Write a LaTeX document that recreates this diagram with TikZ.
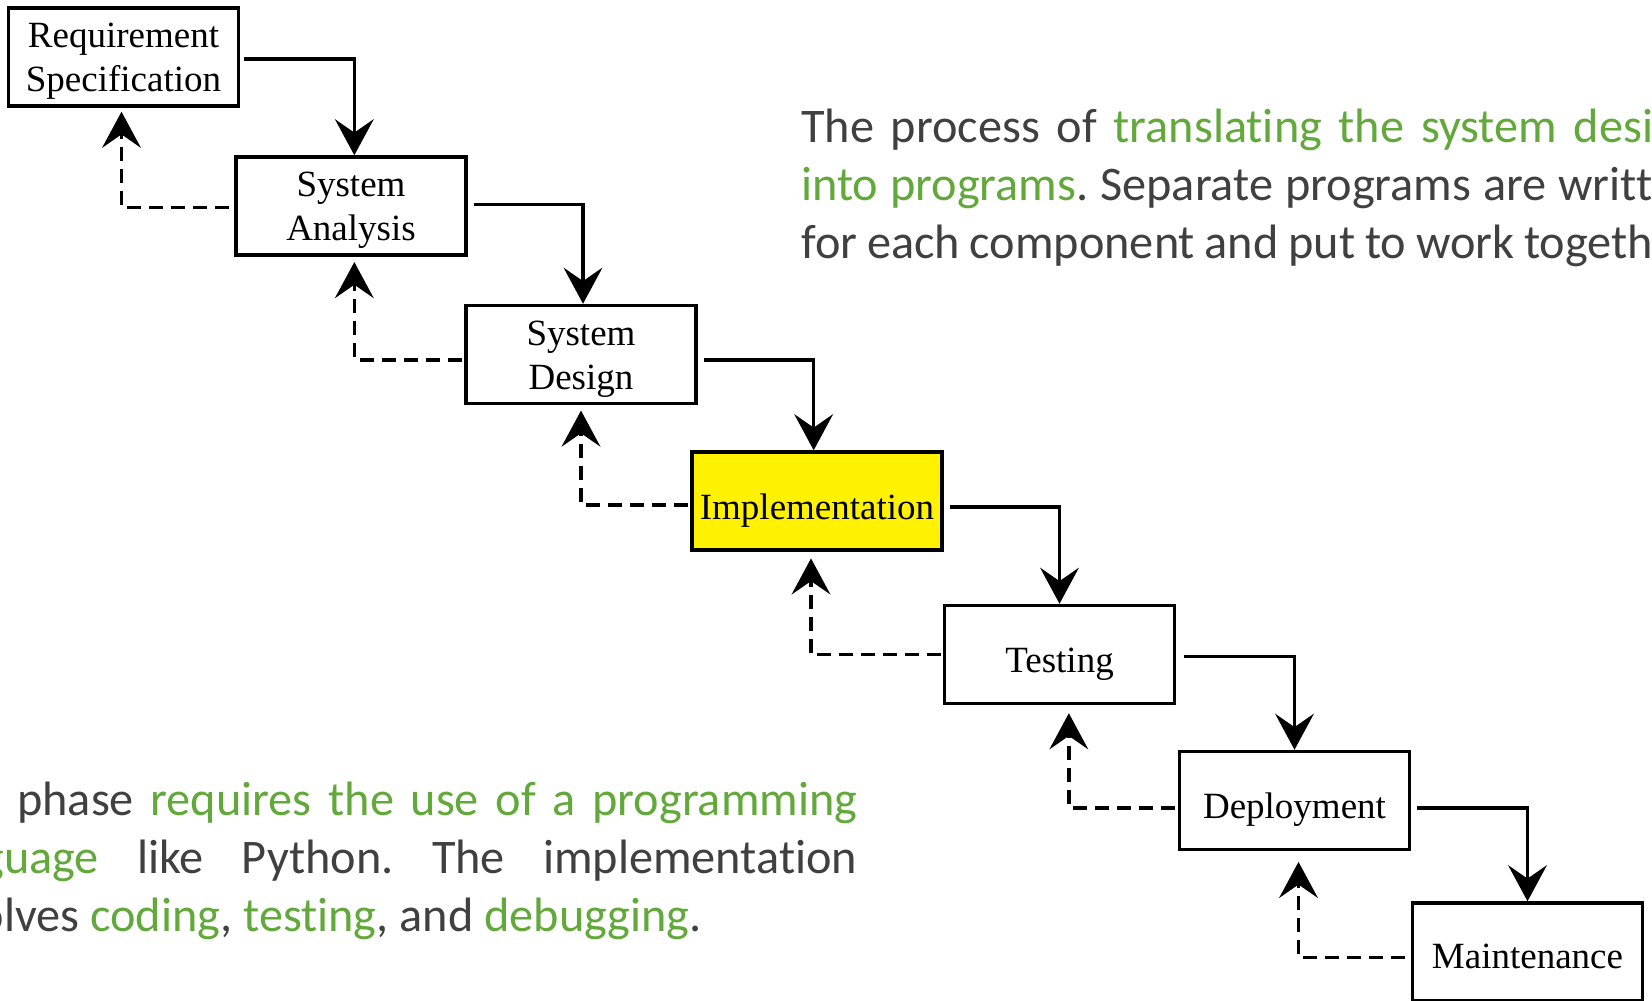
\documentclass[tikz,border=0pt]{standalone}
\usepackage{fontspec}
\setmainfont{Liberation Serif}
\newfontfamily\bodyfont[Ligatures=NoCommon]{Carlito}
\usetikzlibrary{arrows.meta}
\definecolor{textgray}{RGB}{64,64,64}
\definecolor{hlgreen}{RGB}{98,168,58}
\newcommand{\hl}[1]{\textcolor{hlgreen}{#1}}
% label set a little below the box centre, box size unchanged
\newcommand{\boxlabel}[2]{\raisebox{#1}[\height][\depth]{%
  \begin{tabular}{@{}c@{}}#2\end{tabular}}}

\begin{document}
\begin{tikzpicture}[x=0.75pt,y=-0.75pt,
  phase/.style={draw=black, line width=2.6pt, fill=white,
    minimum width=172.5pt, minimum height=73.5pt, inner sep=0pt,
    font=\fontsize{27.75}{33}\selectfont},
  flow/.style={line width=2.6pt,
    -{Stealth[length=27pt,width=29pt,inset=10pt]}},
  back/.style={flow, dash pattern=on 10.5pt off 6pt},
  para/.style={anchor=base west, inner sep=0pt, text=textgray}
]
% page frame
\useasboundingbox (0,0) rectangle (1652,1000);
\clip (0,0) rectangle (1652,1000);
\fill[white] (0,0) rectangle (1652,1000);

% waterfall phases
\node[phase] (req)   at (123.5,57)   {\boxlabel{-3pt}{Requirement\\Specification}};
\node[phase] (ana)   at (351,206)    {\boxlabel{-3pt}{System\\Analysis}};
\node[phase] (des)   at (581,354.5)  {\boxlabel{-3pt}{System\\Design}};
\node[phase, fill=yellow, minimum width=187.5pt] (impl) at (817,501)
  {\boxlabel{-7pt}{Implementation}};
\node[phase] (test)  at (1059.5,654.5) {\boxlabel{-7pt}{Testing}};
\node[phase] (dep)   at (1294.5,800.5) {\boxlabel{-7pt}{Deployment}};
\node[phase] (maint) at (1527.5,952)   {\boxlabel{-6pt}{Maintenance}};

% forward flow
\draw[flow] ([xshift=3pt,yshift=-1.5pt]req.east)   -| ([xshift=2.5pt]ana.north);
\draw[flow] ([xshift=4.5pt,yshift=1pt]ana.east)    -| ([xshift=1.5pt]des.north);
\draw[flow] ([xshift=4.5pt,yshift=-4pt]des.east)   -| ([xshift=-2.5pt]impl.north);
\draw[flow] ([xshift=4.5pt,yshift=-4.5pt]impl.east) -| (test.north);
\draw[flow] ([xshift=6pt,yshift=-1.5pt]test.east)  -| (dep.north);
\draw[flow] ([xshift=4.5pt,yshift=-5.5pt]dep.east) -| (maint.north);

% feedback flow
\draw[back] ([xshift=-4pt,yshift=-1pt]ana.west)   -| ([xshift=-1.5pt,yshift=-3pt]req.south);
\draw[back] ([xshift=-2pt,yshift=-4pt]des.west)   -| ([xshift=2.5pt,yshift=-4pt]ana.south);
\draw[back] ([xshift=-2pt,yshift=-3pt]impl.west)  -| ([yshift=-4pt]des.south);
\draw[back] ([xshift=-1pt]test.west)              -| ([xshift=-4.5pt,yshift=-5pt]impl.south);
\draw[back] ([xshift=-2pt,yshift=-5.5pt]dep.west) -| ([xshift=7pt,yshift=-6pt]test.south);
\draw[back] ([xshift=-4pt,yshift=-4pt]maint.west) -| ([xshift=3pt,yshift=-8pt]dep.south);

% descriptive text
\node[para] (intro) at (801,142) {\parbox[t]{675pt}{\bodyfont
  \fontsize{36.2}{43.5}\selectfont\frenchspacing
  \tolerance=10000\hyphenpenalty=10000
  The process of \hl{translating the system design}\linebreak
  \hl{into programs}. Separate programs are written\linebreak
  for each component and put to work together.}};
\node[para] (summary) at (-78.5,815) {\parbox[t]{701.6pt}{\bodyfont
  \fontsize{36.2}{43.5}\selectfont\frenchspacing
  \tolerance=10000\hyphenpenalty=10000
  This phase \hl{requires the use of a programming}\linebreak
  \hl{language} like Python. The implementation\linebreak
  involves \hl{coding}, \hl{testing}, and \hl{debugging}.}};
\end{tikzpicture}
\end{document}
